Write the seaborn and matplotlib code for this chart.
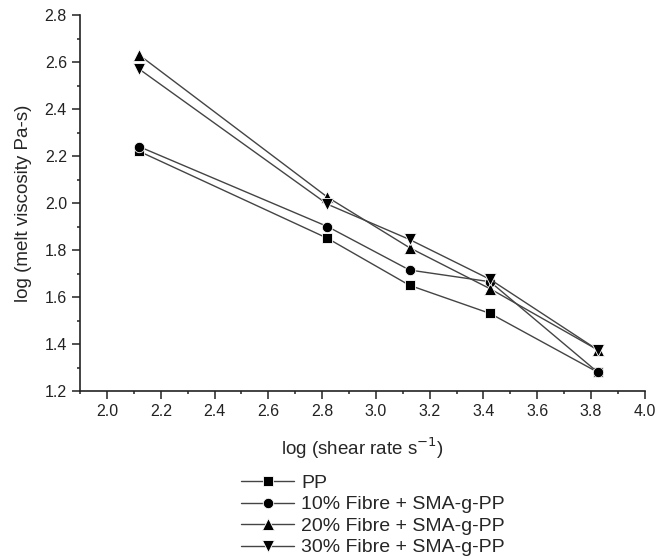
import matplotlib
matplotlib.use("Agg")
import matplotlib.pyplot as plt
import seaborn as sns
import pandas as pd
from matplotlib.ticker import MultipleLocator

shear = [2.12, 2.82, 3.125, 3.425, 3.825]
pp = [2.22, 1.85, 1.65, 1.53, 1.28]
f10 = [2.24, 1.90, 1.715, 1.665, 1.28]
f20 = [2.63, 2.025, 1.81, 1.635, 1.375]
f30 = [2.57, 1.995, 1.845, 1.675, 1.375]
labels = ["PP", "10% Fibre + SMA-g-PP", "20% Fibre + SMA-g-PP", "30% Fibre + SMA-g-PP"]
markers = ["s", "o", "^", "v"]
msizes = [7.5, 7.5, 9, 9]
xticks = [2.0, 2.2, 2.4, 2.6, 2.8, 3.0, 3.2, 3.4, 3.6, 3.8, 4.0]
xticklabels = ["2.0", "2.2", "2.4", "2.6", "2.8", "3.0", "3.2", "3.4", "3.6", "3.8", "4.0"]

sns.set_style("ticks")
plt.rcParams['font.family'] = ['Liberation Sans', 'DejaVu Sans']

fig = plt.figure(figsize=(6.62, 5.59), dpi=100)
ax = fig.add_axes([0.121, 0.3005, 0.853, 0.6725])

for vals, lab, m, ms in zip([pp, f10, f20, f30], labels, markers, msizes):
    df = pd.DataFrame({"x": shear, "y": vals})
    sns.lineplot(data=df, x="x", y="y", ax=ax, color="#444444", linewidth=1.0,
                 marker=m, markersize=ms, markerfacecolor="black",
                 markeredgecolor="white", markeredgewidth=0.6, label=lab)

ax.set_xlim(1.9, 4.0)
ax.set_ylim(1.2, 2.8)
ax.xaxis.set_minor_locator(MultipleLocator(0.1))
ax.yaxis.set_major_locator(MultipleLocator(0.2))
ax.yaxis.set_minor_locator(MultipleLocator(0.1))
ax.set_xticks(xticks)
ax.set_xticklabels(xticklabels)
sns.despine(ax=ax)
for s in ["left", "bottom"]:
    ax.spines[s].set_color("#222222")
    ax.spines[s].set_linewidth(1.2)
ax.tick_params(axis="both", which="major", direction="out", length=5.5, width=1.1,
               labelsize=11.5, colors="#222222", pad=4)
ax.tick_params(axis="both", which="minor", direction="out", length=2.5, width=1.1, colors="#222222")

ax.set_xlabel("log (shear rate s$^{-1}$)", fontsize=13.5, labelpad=12)
ax.set_ylabel("log (melt viscosity Pa-s)", fontsize=13.5, labelpad=9)

handles, labs = ax.get_legend_handles_labels()
ax.legend(handles, labs, loc="upper left", bbox_to_anchor=(0.35, 0.169),
          bbox_transform=fig.transFigure, frameon=False, fontsize=14,
          handlelength=2.7, handletextpad=0.36, labelspacing=0.2, borderpad=0)

fig.savefig("out.png", dpi=100)
